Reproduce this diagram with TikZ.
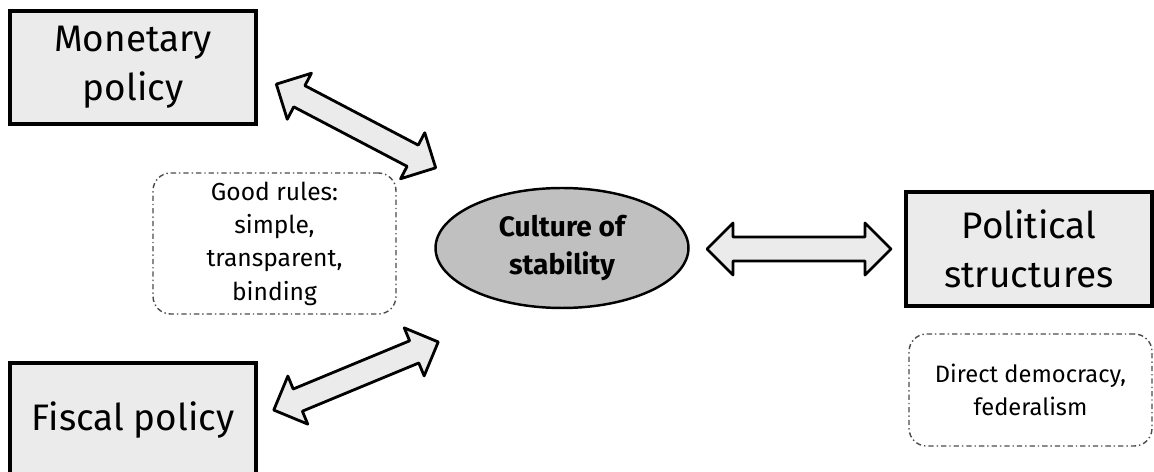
\documentclass[tikz,border=0pt]{standalone}
\usepackage{fontspec}
\setmainfont{Fira Sans}
\usetikzlibrary{shapes.geometric}

\definecolor{boxgray}{HTML}{EBEBEB}
\definecolor{ovalgray}{HTML}{C0C0C0}

% block arrow with two heads: centre, angle, length (px)
\newcommand{\bigarrow}[3]{%
  \begin{scope}[shift={#1}, rotate=#2]
    \pgfmathsetmacro{\halflen}{#3/2}
    \draw[block arrow] (-\halflen,0) -- ++(26,26) -- ++(0,-14) -- (\halflen-26,12)
      -- ++(0,14) -- (\halflen,0) -- ++(-26,-26) -- ++(0,14) -- (-\halflen+26,-12)
      -- ++(0,-14) -- cycle;
  \end{scope}}

\begin{document}
\begin{tikzpicture}[x=0.02cm, y=-0.02cm,
    main box/.style={draw, line width=2.3pt, fill=boxgray, align=center,
      minimum width=4.92cm, minimum height=2.27cm, inner sep=0pt,
      font=\fontsize{21}{28}\selectfont},
    note box/.style={draw=black!70, line width=0.8pt, rounded corners=10pt,
      dash pattern=on 3pt off 1.7pt on 0.8pt off 1.7pt, align=center,
      minimum width=4.86cm, inner sep=0pt, font=\fontsize{14}{19}\selectfont},
    block arrow/.style={draw, line width=1.6pt, fill=boxgray, line join=round},
    ]
    \useasboundingbox (0,0) rectangle (1154,472);

    \node[main box] (monetary) at (133,67.5) {Monetary\\policy};
    \node[main box] (fiscal) at (133,420) {Fiscal policy};
    \node[main box] (political) at (1029,249) {Political\\structures};

    \node[note box, minimum height=2.82cm] (rules) at (274.5,243.5)
      {Good rules:\\simple,\\transparent,\\binding};
    \node[note box, minimum height=2.24cm, font=\fontsize{13.5}{19}\selectfont]
      (democracy) at (1030.5,390) {Direct democracy,\\federalism};

    \node[ellipse, draw, line width=1.4pt, fill=ovalgray, minimum width=5.06cm,
      minimum height=2.4cm, inner sep=0pt, align=center,
      font=\fontsize{16}{22}\selectfont\bfseries] (culture) at (562,248)
      {Culture of\\stability};

    \bigarrow{(356,126)}{-27.7}{180}
    \bigarrow{(356,376)}{22.5}{178}
    \bigarrow{(799,249)}{0}{184}
\end{tikzpicture}
\end{document}
